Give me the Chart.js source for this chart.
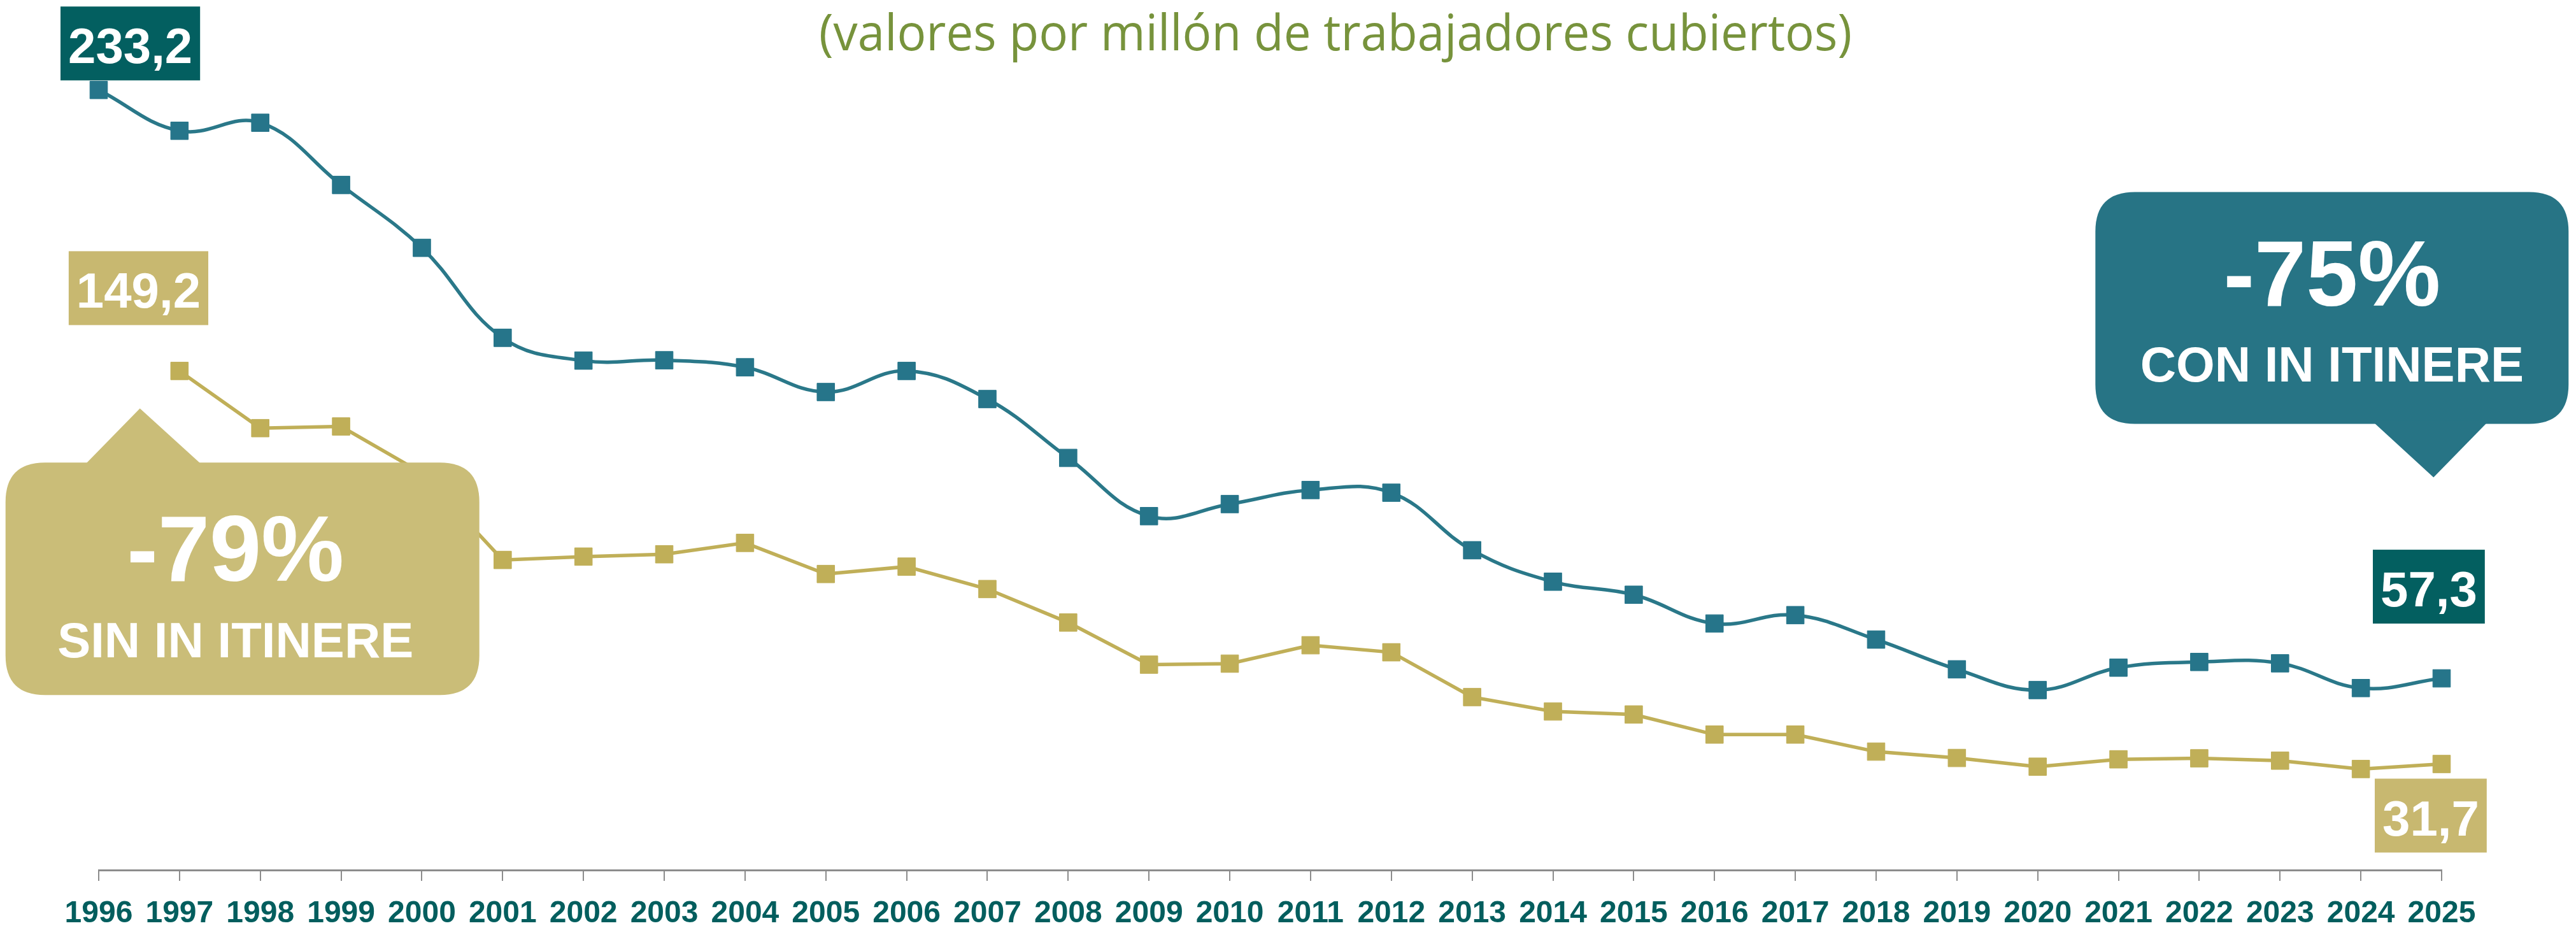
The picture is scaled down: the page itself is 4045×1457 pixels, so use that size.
<!DOCTYPE html>
<html>
<head>
<meta charset="utf-8">
<script src="https://cdn.jsdelivr.net/npm/chart.js@4.4.1/dist/chart.umd.min.js"></script>
<style>
  html, body { margin: 0; padding: 0; background: #fff; }
  #wrap { width: 4045px; height: 1457px; }
</style>
</head>
<body>
<div id="wrap"><canvas id="grafico" width="4045" height="1457"></canvas></div>
<script>
// años del eje x
const anos = ['1996','1997','1998','1999','2000','2001','2002','2003','2004','2005',
  '2006','2007','2008','2009','2010','2011','2012','2013','2014','2015',
  '2016','2017','2018','2019','2020','2021','2022','2023','2024','2025'];

// índice de incidencia, con in itinere
const conItinere = [233.2, 221.0, 223.4, 204.8, 186.0, 159.1, 152.3, 152.4, 150.3, 142.9,
  149.2, 140.8, 123.2, 105.8, 109.4, 113.6, 112.8, 95.6, 86.2, 82.3,
  73.7, 76.2, 68.9, 60.0, 53.8, 60.5, 62.2, 61.8, 54.4, 57.3];

// índice de incidencia, sin in itinere (no hay dato en 1996)
const sinItinere = [null, 149.2, 132.1, 132.6, 118.7, 92.7, 93.7, 94.4, 97.8, 88.5,
  90.7, 84.0, 74.0, 61.4, 61.7, 67.2, 65.1, 51.7, 47.4, 46.5,
  40.5, 40.5, 35.4, 33.5, 30.9, 33.1, 33.4, 32.7, 30.2, 31.7];

const titulo = '(valores por millón de trabajadores cubiertos)';

const TEAL = '#26758A';
const TEAL_OSCURO = '#035F60';
const ORO = '#C0AF58';
const ORO_CAJA = '#C8B870';
const ORO_BOCADILLO = '#CABD78';

function coma(v) {
  return v.toFixed(1).replace('.', ',');
}

function caminoRedondeado(ctx, x, y, w, h, r) {
  ctx.beginPath();
  ctx.moveTo(x + r, y);
  ctx.lineTo(x + w - r, y);
  ctx.quadraticCurveTo(x + w, y, x + w, y + r);
  ctx.lineTo(x + w, y + h - r);
  ctx.quadraticCurveTo(x + w, y + h, x + w - r, y + h);
  ctx.lineTo(x + r, y + h);
  ctx.quadraticCurveTo(x, y + h, x, y + h - r);
  ctx.lineTo(x, y + r);
  ctx.quadraticCurveTo(x, y, x + r, y);
  ctx.closePath();
}

// caja con el valor junto a un punto
function cajaValor(ctx, punto, valor, color, dx, dy) {
  ctx.font = 'bold 78px "Liberation Sans", Arial, sans-serif';
  const texto = coma(valor);
  const w = ctx.measureText(texto).width + 24;
  const h = 116;
  const x = punto.x + dx;
  const y = punto.y + dy;
  ctx.fillStyle = color;
  ctx.fillRect(x, y, w, h);
  ctx.fillStyle = '#fff';
  ctx.textAlign = 'center';
  ctx.textBaseline = 'alphabetic';
  ctx.fillText(texto, x + w / 2, y + 89);
}

// bocadillo con porcentaje; (ax, ay) es la punta
function bocadillo(ctx, ax, ay, c) {
  const x = ax + c.dx, y = ay + c.dy;
  ctx.fillStyle = c.color;
  caminoRedondeado(ctx, x, y, c.w, c.h, 62);
  ctx.fill();
  ctx.beginPath();
  ctx.moveTo(ax, ay);
  ctx.lineTo(ax + c.base[0], ay + c.baseY);
  ctx.lineTo(ax + c.base[1], ay + c.baseY);
  ctx.closePath();
  ctx.fill();
  const cx = x + c.w / 2 + c.textoDx;
  ctx.fillStyle = '#fff';
  ctx.textAlign = 'center';
  ctx.textBaseline = 'alphabetic';
  ctx.font = 'bold 146px "Liberation Sans", Arial, sans-serif';
  ctx.fillText(c.grande, cx, y + c.l1);
  ctx.font = 'bold 78px "Liberation Sans", Arial, sans-serif';
  ctx.fillText(c.peque, cx, y + c.l2);
}

const anotaciones = {
  id: 'anotaciones',
  afterDatasetsDraw(chart) {
    const ctx = chart.ctx;
    const sx = chart.scales.x, sy = chart.scales.y;
    const con = chart.getDatasetMeta(0).data;
    const sin = chart.getDatasetMeta(1).data;
    const n = anos.length - 1;
    ctx.save();

    bocadillo(ctx, sx.getPixelForValue(0.51), sy.getPixelForValue(138), {
      color: ORO_BOCADILLO, dx: -211, dy: 85, w: 744, h: 365,
      base: [-88, 99], baseY: 90, textoDx: -11, l1: 186, l2: 306,
      grande: '-79%', peque: 'SIN IN ITINERE'
    });
    bocadillo(ctx, sx.getPixelForValue(28.9), sy.getPixelForValue(117.4), {
      color: '#277485', dx: -531, dy: -448, w: 743, h: 364,
      base: [-97, 87], baseY: -89, textoDx: 0, l1: 179, l2: 298,
      grande: '-75%', peque: 'CON IN ITINERE'
    });

    cajaValor(ctx, con[0], conItinere[0], TEAL_OSCURO, -60, -131);
    cajaValor(ctx, sin[1], sinItinere[1], ORO_CAJA, -174, -188);
    cajaValor(ctx, con[n], conItinere[n], TEAL_OSCURO, -108, -202);
    cajaValor(ctx, sin[n], sinItinere[n], ORO_CAJA, -105, 23);

    // subtítulo
    ctx.fillStyle = '#77933C';
    ctx.textAlign = 'center';
    ctx.textBaseline = 'alphabetic';
    ctx.font = '70px "Open Sans", sans-serif';
    const size = 70 * 1622 / ctx.measureText(titulo).width;
    ctx.font = size.toFixed(1) + 'px "Open Sans", sans-serif';
    ctx.translate(2097, 79);
    ctx.scale(1, 42 / (0.535 * size));
    ctx.fillText(titulo, 0, 0);
    ctx.restore();
  }
};

const ctx = document.getElementById('grafico');
const grafico = new Chart(ctx, {
  type: 'line',
  data: {
    labels: anos,
    datasets: [{
      label: 'Con in itinere',
      data: conItinere,
      borderColor: '#2A7889',
      borderWidth: 5.5,
      tension: 0.4,
      pointStyle: 'rect',
      pointRadius: 19.5,
      pointBackgroundColor: TEAL,
      pointBorderColor: TEAL,
      pointBorderWidth: 1,
      fill: false
    },
    {
      label: 'Sin in itinere',
      data: sinItinere,
      borderColor: ORO,
      borderWidth: 5.5,
      tension: 0,
      pointStyle: 'rect',
      pointRadius: 19.5,
      pointBackgroundColor: ORO,
      pointBorderColor: ORO,
      pointBorderWidth: 1,
      fill: false
    }]
  },
  options: {
    responsive: false,
    animation: false,
    devicePixelRatio: 1,
    layout: {
      padding: { left: 155, right: 211, top: 53, bottom: 0 }
    },
    plugins: {
      legend: { display: false },
      title: { display: false },
      tooltip: { enabled: false }
    },
    scales: {
      x: {
        offset: false,
        afterFit(scale) { scale.height = 91; },
        grid: {
          drawOnChartArea: false,
          drawTicks: true,
          tickLength: 17,
          color: '#8C8C8C',
          lineWidth: 2
        },
        border: { display: true, color: '#8C8C8C', width: 3 },
        ticks: {
          autoSkip: false,
          maxRotation: 0,
          padding: 23,
          color: '#035E5E',
          font: { family: '"Liberation Sans", Arial, sans-serif', size: 48, weight: 'bold' }
        }
      },
      y: {
        display: false,
        min: 0,
        max: 250
      }
    }
  },
  plugins: [anotaciones]
});
</script>
</body>
</html>
